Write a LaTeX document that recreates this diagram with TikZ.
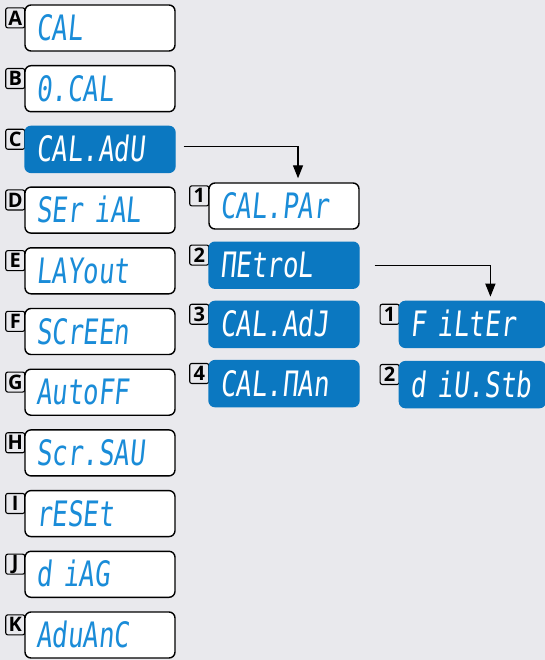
\documentclass[tikz,border=0pt]{standalone}
\usepackage{fontspec}
\setsansfont{Open Sans}
\newfontfamily\segfont[FakeSlant=0.1,FakeStretch=0.74]{DejaVu Sans Mono}
\usetikzlibrary{arrows.meta,positioning,backgrounds}
\definecolor{PanelGray}{HTML}{E9E9ED}
\definecolor{LcdBlue}{HTML}{0B78C1}
\definecolor{LcdText}{HTML}{1A8CD8}
\tikzset{
    % Display boxes, white with blue digits
    dispbox/.style={
        rectangle,
        rounded corners=6pt,
        draw=black,
        fill=white,
        line width=1.4pt,
        text=LcdText,
        minimum width=150pt,
        minimum height=46pt,
        text width=128pt,
        inner xsep=11pt,
        inner ysep=0pt,
        text height=25pt,
        text depth=0pt,
        align=left,
        font=\segfont\fontsize{35}{35}\selectfont
    },
    dispboxfill/.style={
        dispbox,
        draw=LcdBlue,
        fill=LcdBlue,
        text=white
    },
    tagbox/.style={
        rectangle,
        rounded corners=2pt,
        draw=black,
        fill=PanelGray,
        line width=1.1pt,
        minimum width=19pt,
        minimum height=20pt,
        inner sep=0pt,
        anchor=north east,
        font=\sffamily\bfseries\fontsize{20}{20}\selectfont
    },
    flowarrow/.style={
        -{Triangle[length=13pt,width=10pt]},
        line width=1.3pt,
        color=black
    }
}

\begin{document}
\begin{tikzpicture}[x=1pt, y=-1pt, node distance=13.3pt]
    \useasboundingbox (0,0) rectangle (545,660);

    % Main menu
    \node[dispbox] (cal) at (100,28) {CAL};
    \node[dispbox, below=of cal] (ocal) {0.CAL};
    \node[dispboxfill, below=of ocal] (caladu) {CAL.AdU};
    \node[dispbox, below=of caladu] (serial) {SEr iAL};
    \node[dispbox, below=of serial] (layout) {LAYout};
    \node[dispbox, below=of layout] (screen) {SCrEEn};
    \node[dispbox, below=of screen] (autoff) {AutoFF};
    \node[dispbox, below=of autoff] (scrsau) {Scr.SAU};
    \node[dispbox, below=of scrsau] (reset) {rESEt};
    \node[dispbox, below=of reset] (diag) {d iAG};
    \node[dispbox, below=of diag] (advanc) {AduAnC};

    % Calibration submenu
    \node[dispbox] (calpar) at (284,206) {CAL.PAr};
    \node[dispboxfill, below=11.8pt of calpar] (metrol) {ΠEtroL};
    \node[dispboxfill, below=11.8pt of metrol] (caladj) {CAL.AdJ};
    \node[dispboxfill, below=11.8pt of caladj] (calman) {CAL.ΠAn};

    % Metrology submenu
    \node[dispboxfill, right=39pt of caladj, minimum width=146pt, text width=124pt] (filter) {F iLtEr};
    \node[dispboxfill, below=12.8pt of filter, minimum width=146pt, text width=124pt] (divstb) {d iU.Stb};

    % Arrows
    \draw[flowarrow] ([xshift=8pt,yshift=3pt]caladu.east) -| ([xshift=14pt,yshift=4pt]calpar.north);
    \draw[flowarrow] ([xshift=15pt]metrol.east) -| ([xshift=18pt,yshift=4pt]filter.north);

    % Background and tags behind the boxes
    \begin{scope}[on background layer]
        \fill[PanelGray] (0,0) rectangle (545,660);
        \node[tagbox] (tagA) at ([xshift=1pt,yshift=-3pt]cal.north west) {A};
        \node[tagbox] (tagB) at ([xshift=1pt,yshift=-3pt]ocal.north west) {B};
        \node[tagbox] (tagC) at ([xshift=1pt,yshift=-3pt]caladu.north west) {C};
        \node[tagbox] (tagD) at ([xshift=1pt,yshift=-3pt]serial.north west) {D};
        \node[tagbox] (tagE) at ([xshift=1pt,yshift=-3pt]layout.north west) {E};
        \node[tagbox] (tagF) at ([xshift=1pt,yshift=-3pt]screen.north west) {F};
        \node[tagbox] (tagG) at ([xshift=1pt,yshift=-3pt]autoff.north west) {G};
        \node[tagbox] (tagH) at ([xshift=1pt,yshift=-3pt]scrsau.north west) {H};
        \node[tagbox] (tagI) at ([xshift=1pt,yshift=-3pt]reset.north west) {I};
        \node[tagbox] (tagJ) at ([xshift=1pt,yshift=-3pt]diag.north west) {J};
        \node[tagbox] (tagK) at ([xshift=1pt,yshift=-3pt]advanc.north west) {K};
        \node[tagbox] (tagone) at ([xshift=1pt,yshift=-3pt]calpar.north west) {1};
        \node[tagbox] (tagtwo) at ([xshift=1pt,yshift=-3pt]metrol.north west) {2};
        \node[tagbox] (tagthree) at ([xshift=1pt,yshift=-3pt]caladj.north west) {3};
        \node[tagbox] (tagfour) at ([xshift=1pt,yshift=-3pt]calman.north west) {4};
        \node[tagbox] (tagsubone) at ([xshift=1pt,yshift=-3pt]filter.north west) {1};
        \node[tagbox] (tagsubtwo) at ([xshift=1pt,yshift=-3pt]divstb.north west) {2};
    \end{scope}
\end{tikzpicture}
\end{document}
